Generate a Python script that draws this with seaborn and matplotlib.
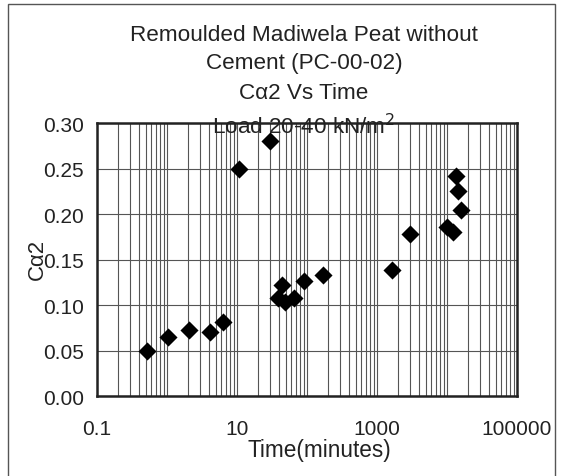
import numpy as np
import pandas as pd
import matplotlib
matplotlib.use("Agg")
import matplotlib.pyplot as plt
from matplotlib.ticker import LogLocator, FixedLocator, NullFormatter
import seaborn as sns

# values
time_min = [0.52, 1.02, 2.06, 4.1, 6.3, 10.6, 29.3,
            44, 38, 48.5, 65, 91, 168,
            1655, 2960, 10100, 12300, 13450, 14500, 16000]
c_alpha2 = [0.049, 0.065, 0.072, 0.070, 0.081, 0.250, 0.280,
            0.122, 0.108, 0.103, 0.108, 0.126, 0.133,
            0.138, 0.178, 0.186, 0.180, 0.242, 0.225, 0.204]

x_ticks = [0.1, 1, 10, 100, 1000, 10000, 100000]
x_tick_labels = ["0.1", "", "10", "", "1000", "", "100000"]
y_ticks = [0.00, 0.05, 0.10, 0.15, 0.20, 0.25, 0.30]

title_lines = ["Remoulded Madiwela Peat without", "Cement (PC-00-02)",
               "C\u03b12 Vs Time", "Load 20-40 kN/m$^2$"]

df = pd.DataFrame({"Time": time_min, "Ca2": c_alpha2})

sns.set_style("white")
plt.rcParams["font.family"] = ["Liberation Sans", "DejaVu Sans"]
txt = "#222222"

fig = plt.figure(figsize=(5.63, 4.77), dpi=100)
ax = fig.add_axes([0.1723, 0.1677, 0.746, 0.5723])

sns.scatterplot(data=df, x="Time", y="Ca2", marker="D", color="black",
                s=85, edgecolor="black", linewidth=0, ax=ax, zorder=3)

ax.set_xscale("log")
ax.set_xlim(0.1, 100000)
ax.set_ylim(0, 0.30)

# grid at every decade and minor positions, labels every other decade
ax.xaxis.set_major_locator(FixedLocator(x_ticks))
ax.xaxis.set_minor_locator(LogLocator(base=10, subs=np.arange(2, 10), numticks=20))
ax.xaxis.set_minor_formatter(NullFormatter())
ax.set_xticklabels(x_tick_labels)
ax.set_yticks(y_ticks)
ax.set_yticklabels([f"{v:.2f}" for v in y_ticks])

ax.grid(True, which="major", color="#555555", linewidth=0.8)
ax.grid(True, which="minor", axis="x", color="#555555", linewidth=0.8)
ax.set_axisbelow(True)

ax.tick_params(axis="both", which="major", direction="out", length=4.5,
               width=0.8, labelsize=15, color="#333333", labelcolor=txt)
ax.tick_params(axis="x", which="major", pad=12)
ax.tick_params(axis="y", which="major", pad=5)
ax.tick_params(axis="x", which="minor", length=0)
for sp in ax.spines.values():
    sp.set_color("#222222")
    sp.set_linewidth(1.8)

ax.set_xlabel("Time(minutes)", fontsize=16.3, color=txt)
ax.set_ylabel("C\u03b12", fontsize=16, color=txt)
ax.xaxis.set_label_coords(0.53, -0.152)
ax.yaxis.set_label_coords(-0.117, 0.505)

for line, yy in zip(title_lines, [0.925, 0.866, 0.805, 0.734]):
    fig.text(0.54, yy, line, ha="center", va="center", fontsize=16.2, color=txt)

# outer chart frame
frame = plt.Rectangle((8 / 563, -0.05), 547 / 563, 1.04, transform=fig.transFigure,
                      fill=False, edgecolor="#555555", linewidth=1)
fig.patches.append(frame)

fig.savefig("out.png", dpi=100)
